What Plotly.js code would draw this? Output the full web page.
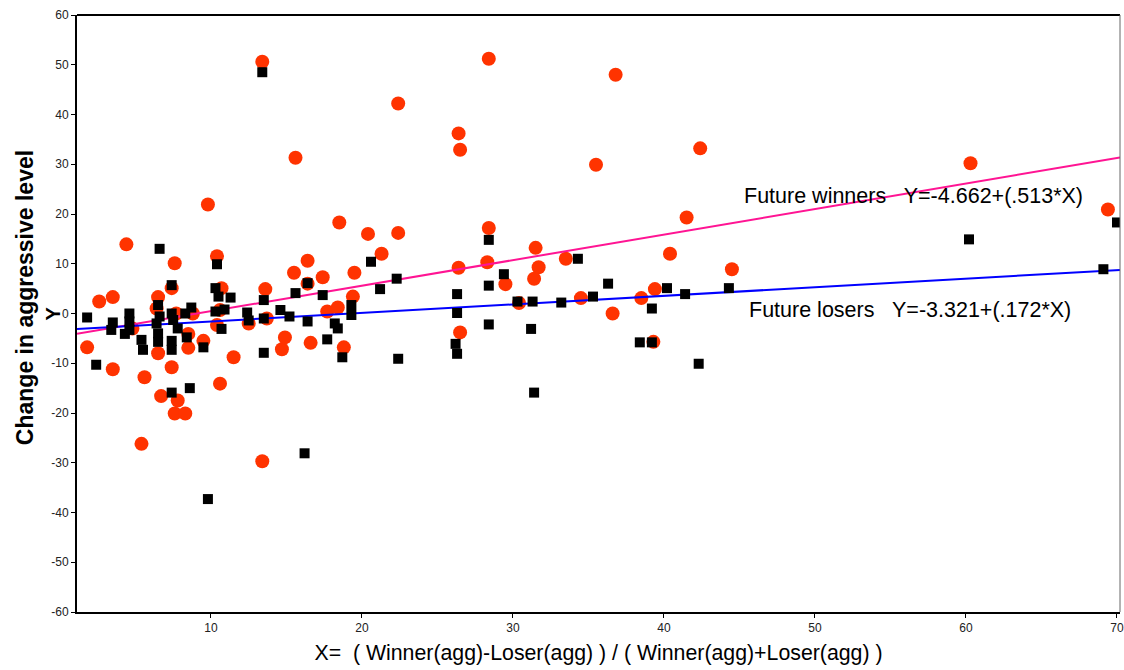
<!DOCTYPE html>
<html>
<head>
<meta charset="utf-8">
<script src="https://cdn.plot.ly/plotly-3.0.1.min.js"></script>
<style>
  html, body { margin: 0; padding: 0; background: #ffffff; }
  #chart { width: 1124px; height: 670px; }
</style>
</head>
<body>
<div id="chart"></div>
<script>
// Future winners (red circles)
const winnersX = [13.4, 28.4, 36.8, 22.4, 26.4, 26.5, 15.6, 35.5, 42.4, 60.3, 69.4, 41.5, 40.4, 44.5,
  22.4, 20.4, 21.3, 26.4, 28.4, 28.3, 31.5, 31.7, 31.4, 29.5, 33.5, 30.4, 34.5, 36.6, 38.5, 39.4, 26.5, 39.3,
  1.8, 2.6, 3.5, 3.5, 4.4, 4.8, 5.6, 5.4, 6.5, 6.4, 6.5, 6.7, 7.4, 7.6, 7.7, 7.4, 7.8, 7.6, 8.3,
  8.5, 8.5, 8.8, 9.5, 9.8, 10.4, 10.7, 10.6, 10.4, 10.6, 11.5, 12.5, 13.4, 13.6, 13.7, 14.7, 14.9,
  15.5, 16.4, 16.4, 16.6, 17.4, 17.7, 18.4, 18.5, 18.8, 19.4, 19.5];
const winnersY = [50.6, 51.2, 48.0, 42.2, 36.2, 32.9, 31.3, 29.9, 33.2, 30.2, 20.9, 19.3, 12.0, 8.9,
  16.2, 16.0, 12.0, 9.2, 17.2, 10.3, 13.2, 9.3, 7.0, 5.9, 11.0, 2.1, 3.1, 0.0, 3.1, 4.9, -3.8, -5.7,
  -6.8, 2.4, 3.3, -11.2, 13.9, -3.0, -12.8, -26.2, 3.3, 1.0, -8.0, -16.6, 5.1, 10.1, 0.0, -10.8, -17.5, -20.1, -20.1,
  -4.1, -6.9, 0.0, -5.5, 21.9, 11.5, 5.1, -14.1, -2.3, 0.7, -8.8, -2.0, -29.7, 4.9, -1.0, -7.2, -4.8,
  8.2, 10.6, 6.0, -5.9, 7.3, 0.4, 1.2, 18.3, -6.8, 3.4, 8.2];

// Future losers (black squares)
const losersX = [13.4, 28.4, 20.6, 22.3, 21.2, 26.3, 28.4, 29.4, 34.3, 36.3, 26.3, 30.3, 31.3, 33.2, 35.3,
  40.2, 41.4, 39.2, 44.3, 28.4, 31.2, 26.2, 26.3, 22.4, 38.4, 39.2, 42.3, 31.4, 60.2, 70.0, 69.1,
  1.8, 2.4, 3.5, 3.4, 4.6, 4.6, 4.6, 4.3, 5.4, 5.5, 6.6, 6.5, 6.6, 6.4, 6.5, 6.5, 7.4, 7.4, 7.5, 7.8,
  7.4, 7.4, 8.3, 8.7, 8.4, 9.5, 7.4, 8.6, 9.8, 16.2, 10.4, 10.3, 10.5, 11.3, 10.3, 10.9, 10.7,
  12.4, 12.5, 13.5, 13.5, 14.6, 15.2, 15.6, 16.4, 17.4, 16.4, 18.2, 18.4, 17.7, 19.3, 19.3, 18.7, 13.5];
const losersY = [48.5, 14.8, 10.4, 7.0, 4.9, 3.9, 5.6, 7.9, 11.0, 6.0, 0.1, 2.4, 2.4, 2.2, 3.4,
  5.1, 3.9, 1.0, 5.1, -2.2, -3.1, -6.1, -8.1, -9.1, -5.8, -5.8, -10.1, -15.9, 14.9, 18.3, 8.9,
  -0.8, -10.3, -1.8, -3.3, 0.0, -1.6, -3.3, -4.1, -5.3, -7.3, 13.0, 1.7, -0.6, -2.0, -4.0, -5.7, 5.7, 0.0, -1.3, -3.0,
  -5.5, -7.3, 0.0, 1.2, -4.8, -6.8, -15.9, -15.0, -37.3, -28.1, 9.9, 5.1, 3.4, 3.2, 0.4, 0.8, -3.1,
  0.2, -1.4, 2.7, -1.0, 0.7, -0.6, 4.1, 6.1, 3.7, -1.6, -2.0, -3.0, -5.2, 1.7, -0.3, -8.8, -7.9];

// Fitted lines as printed on the chart
const winnersFit = { intercept: -4.662, slope: 0.513 };
const losersFit = { intercept: -3.321, slope: 0.172 };
const fitX = [1.13, 70.2];

const xTicks = [10, 20, 30, 40, 50, 60, 70];
const yTicks = [-60, -50, -40, -30, -20, -10, 0, 10, 20, 30, 40, 50, 60];

const FONT = 'Liberation Sans, Arial, sans-serif';

const traces = [
  {
    type: 'scatter', mode: 'markers', name: 'Future winners',
    x: winnersX, y: winnersY,
    marker: { symbol: 'circle', size: 14, color: '#ff3300', line: { width: 0 } }
  },
  {
    type: 'scatter', mode: 'lines', name: 'Winners fit',
    x: fitX, y: fitX.map(v => winnersFit.intercept + winnersFit.slope * v),
    line: { color: '#ff1493', width: 2 }
  },
  {
    type: 'scatter', mode: 'lines', name: 'Losers fit',
    x: fitX, y: fitX.map(v => losersFit.intercept + losersFit.slope * v),
    line: { color: '#0000ff', width: 2 }
  },
  {
    type: 'scatter', mode: 'markers', name: 'Future losers',
    x: losersX, y: losersY,
    marker: { symbol: 'square', size: 10, color: '#000000', line: { width: 0 } }
  }
];

const layout = {
  width: 1124, height: 670,
  margin: { l: 77, r: 4, t: 15, b: 58 },
  paper_bgcolor: '#ffffff', plot_bgcolor: '#ffffff',
  showlegend: false,
  font: { family: FONT, color: '#000' },
  xaxis: {
    range: [1.13, 70.2], tickvals: xTicks, ticktext: xTicks.map(String),
    showgrid: false, zeroline: false,
    showline: true, linecolor: '#000', linewidth: 2,
    ticks: 'outside', ticklen: 4, tickwidth: 1, tickcolor: '#000',
    tickfont: { family: FONT, size: 12, color: '#222' },
    title: { text: 'X=  ( Winner(agg)-Loser(agg) ) / ( Winner(agg)+Loser(agg) )',
             font: { family: FONT, size: 21.3, color: '#000' }, standoff: 11 }
  },
  yaxis: {
    range: [-60, 60], tickvals: yTicks, ticktext: yTicks.map(String),
    showgrid: false, zeroline: false,
    showline: true, linecolor: '#000', linewidth: 2,
    ticks: 'outside', ticklen: 4, tickwidth: 1, tickcolor: '#000',
    tickfont: { family: FONT, size: 12, color: '#222' },
    title: { text: '<b>\u00a0\u00a0\u00a0\u00a0\u00a0Change in aggressive level</b>',
             font: { family: FONT, size: 23, color: '#000' }, standoff: 11 }
  },
  shapes: [
    { type: 'line', xref: 'paper', yref: 'paper', x0: 0, x1: 1, y0: 1, y1: 1, line: { color: '#000', width: 2 } },
    { type: 'line', xref: 'paper', yref: 'paper', x0: 1, x1: 1, y0: 0, y1: 1, line: { color: '#666', width: 1 } }
  ],
  annotations: [
    { xref: 'paper', yref: 'y', x: 0, y: 0, xshift: -38, text: '<b>Y</b>', showarrow: false,
      textangle: -90, font: { family: FONT, size: 20, color: '#000' } },
    { xref: 'x', yref: 'y', x: 45.2, y: 23.6, xanchor: 'left', yanchor: 'middle',
      text: 'Future winners   Y=-4.662+(.513*X)', showarrow: false,
      font: { family: FONT, size: 21.5, color: '#000' } },
    { xref: 'x', yref: 'y', x: 45.5, y: 0.7, xanchor: 'left', yanchor: 'middle',
      text: 'Future losers   Y=-3.321+(.172*X)', showarrow: false,
      font: { family: FONT, size: 21.5, color: '#000' } }
  ]
};

Plotly.newPlot('chart', traces, layout, { displayModeBar: false, staticPlot: true });
</script>
</body>
</html>
